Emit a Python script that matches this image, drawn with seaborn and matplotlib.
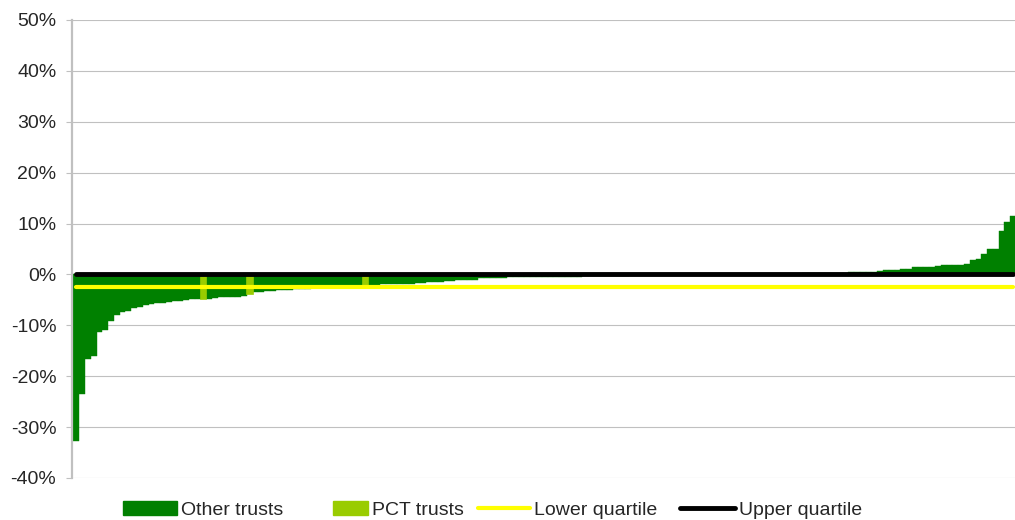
import numpy as np
import pandas as pd
import seaborn as sns
import matplotlib.pyplot as plt
import matplotlib.patches as mpatches
import matplotlib.lines as mlines
from matplotlib.ticker import FuncFormatter

# sorted change per trust (%)
values = [
    -32.7, -23.4, -16.6, -16.0, -11.4, -10.9, -9.2, -8.0, -7.4, -7.1,
    -6.6, -6.4, -5.95, -5.75, -5.55, -5.55, -5.4, -5.3, -5.2, -5.0,
    -4.9, -4.9, -4.9, -4.8, -4.6, -4.4, -4.4, -4.4, -4.4, -4.25,
    -3.85, -3.4, -3.4, -3.3, -3.3, -3.1, -3.1, -3.0, -2.9, -2.85,
    -2.8, -2.75, -2.7, -2.65, -2.6, -2.55, -2.5, -2.45, -2.4, -2.35,
    -2.3, -2.2, -2.0, -1.95, -1.9, -1.85, -1.85, -1.8, -1.8, -1.7,
    -1.7, -1.5, -1.5, -1.5, -1.2, -1.2, -1.0, -1.0, -1.0, -1.0,
    -0.77, -0.77, -0.77, -0.77, -0.77, -0.57, -0.57, -0.57, -0.57, -0.57,
    -0.57, -0.57, -0.45, -0.45, -0.45, -0.45, -0.45, -0.45,
    -0.4, -0.4, -0.35, -0.35, -0.3, -0.3,
    -0.25, -0.25, -0.2, -0.2, -0.2, -0.15, -0.15,
    -0.1, -0.1, -0.1, -0.1, -0.05, -0.05, -0.05, -0.05, 0.0, 0.0,
    0.0, 0.0, 0.0, 0.0, 0.0, 0.05, 0.05, 0.05, 0.05, 0.1,
    0.1, 0.1, 0.1, 0.15, 0.15, 0.2, 0.2, 0.2, 0.25, 0.25,
    0.3, 0.3, 0.35, 0.4, 0.4, 0.45, 0.5, 0.55,
    0.67, 0.86, 0.86, 0.86, 1.06, 1.06, 1.45, 1.45, 1.45, 1.45, 1.65,
    1.85, 1.85, 1.85, 1.85, 2.1, 2.83, 3.0, 4.0, 5.0, 5.0, 8.5, 10.3, 11.5,
]
pct_positions = [22, 30, 50]
lower_quartile = -2.5
upper_quartile = 0.0
y_ticks = [-40, -30, -20, -10, 0, 10, 20, 30, 40, 50]

n = len(values)
df = pd.DataFrame({
    'pos': np.arange(n),
    'value': values,
    'type': ['PCT trusts' if i in pct_positions else 'Other trusts' for i in range(n)],
})

sns.set_style("white")
plt.rcParams['font.family'] = ['Liberation Sans', 'DejaVu Sans']
FS = 14

fig = plt.figure(figsize=(10.15, 5.2), dpi=100)
ax = fig.add_axes([72 / 1015, 1 - 478 / 520, (1016 - 72) / 1015, (478 - 20) / 520])

palette = {'Other trusts': '#008000', 'PCT trusts': '#99CC00'}
sns.barplot(data=df, x='pos', y='value', hue='type', palette=palette,
            dodge=False, width=1.0, linewidth=0, saturation=1,
            legend=False, ax=ax)

for p in ax.patches:
    fc = p.get_facecolor()
    p.set_edgecolor(fc)
    # PCT bars look a touch wider in the original
    p.set_linewidth(1.2 if fc[0] > 0.5 else 0.3)

# quartile lines across all trusts
ax.plot([0, n - 1], [lower_quartile] * 2, color='#FFFF00', lw=3,
        solid_capstyle='round', zorder=5)
ax.plot([0, n - 1], [upper_quartile] * 2, color='black', lw=3.5,
        solid_capstyle='round', zorder=6)

ax.set_xlim(-0.75, n - 0.5)
ax.set_ylim(-40, 50)
ax.set_yticks(y_ticks)
ax.yaxis.set_major_formatter(FuncFormatter(lambda v, _: f"{v:.0f}%"))
ax.set_xticks([])
ax.set_xlabel('')
ax.set_ylabel('')
ax.yaxis.grid(True, color='#C0C0C0', linewidth=0.8)
ax.set_axisbelow(True)
ax.tick_params(axis='y', which='major', direction='out', length=4.3, width=0.8,
               color='#C0C0C0', labelsize=FS, pad=7, left=True)

for side in ['top', 'right', 'bottom']:
    ax.spines[side].set_visible(False)
ax.spines['left'].set_color('#C0C0C0')
ax.spines['left'].set_linewidth(1.6)

# legend items placed one by one, as spaced in the original
fs_px = FS * 100 / 72
items = [
    (mpatches.Patch(color='#008000', label='Other trusts'), 123, 54),
    (mpatches.Patch(color='#99CC00', label='PCT trusts'), 333, 35),
    (mlines.Line2D([], [], color='#FFFF00', lw=3, label='Lower quartile'), 478, 52),
    (mlines.Line2D([], [], color='black', lw=3.5, label='Upper quartile'), 680, 55),
]
for handle, x0, w in items:
    leg = fig.legend(handles=[handle], loc='center left',
                     bbox_to_anchor=(x0 / 1015, 1 - 510 / 520),
                     frameon=False, fontsize=FS, handlelength=w / fs_px,
                     handleheight=0.72, handletextpad=0.2,
                     borderpad=0, borderaxespad=0)

fig.savefig('out.png', dpi=100)
